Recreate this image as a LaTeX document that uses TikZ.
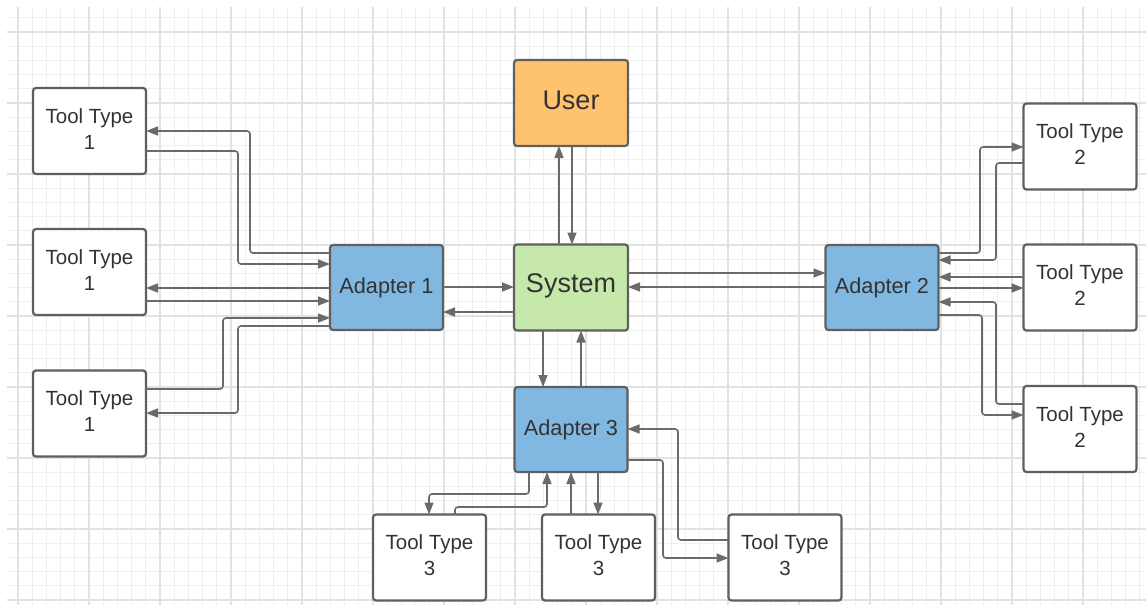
\documentclass[tikz,border=0pt]{standalone}
\usepackage{fontspec}
\setmainfont{Liberation Sans}
\usetikzlibrary{arrows.meta}
\definecolor{gridminor}{HTML}{EFEFEF}
\definecolor{gridmajor}{HTML}{E2E2E2}
\definecolor{boxline}{HTML}{5F5F5F}
\definecolor{connline}{HTML}{6A6A6A}
\definecolor{txt}{HTML}{333333}
\definecolor{userfill}{HTML}{FFC26F}
\definecolor{sysfill}{HTML}{C6E8AA}
\definecolor{adfill}{HTML}{80B8E2}
\tikzset{
  basebox/.style={draw=boxline, line width=2.2pt, rounded corners=3pt, outer sep=0pt,
    inner sep=0pt, text=txt, align=center},
  tool/.style={basebox, fill=white, minimum width=113pt, minimum height=86pt,
    font=\fontsize{20.5}{26}\selectfont, text depth=4pt},
  adapter/.style={basebox, fill=adfill, minimum width=113pt, minimum height=85pt,
    font=\fontsize{21.7}{26}\selectfont},
  bigbox/.style={basebox, minimum width=114pt, minimum height=86pt,
    font=\fontsize{27}{32}\selectfont},
  conn/.style={draw=connline, line width=1.6pt, rounded corners=3pt,
    -{Triangle[length=12pt,width=9pt]}}
}
\begin{document}
\begin{tikzpicture}[x=1pt,y=-1pt]
\useasboundingbox (0,0) rectangle (1146,605);
\fill[white] (0,0) rectangle (1146,605);
% grid
\begin{scope}
\clip (7,7) rectangle (1146,605);
\foreach \i in {0,...,80} {
  \pgfmathsetmacro{\xx}{18+14.2*\i}
  \draw[gridminor, line width=1pt] (\xx,0) -- (\xx,605);
}
\foreach \i in {-1,...,41} {
  \pgfmathsetmacro{\yy}{32+14.2*\i}
  \draw[gridminor, line width=1pt] (0,\yy) -- (1146,\yy);
}
\foreach \i in {0,...,16} {
  \pgfmathsetmacro{\xx}{18+71*\i}
  \draw[gridmajor, line width=1.2pt] (\xx,0) -- (\xx,605);
}
\foreach \i in {0,...,8} {
  \pgfmathsetmacro{\yy}{32+71*\i}
  \draw[gridmajor, line width=1.2pt] (0,\yy) -- (1146,\yy);
}
\end{scope}
% nodes
\node[tool] (t1a) at (89.5,131) {Tool Type\\1};
\node[tool] (t1b) at (89.5,272) {Tool Type\\1};
\node[tool] (t1c) at (89.5,413.5) {Tool Type\\1};
\node[adapter] (a1) at (386.5,287.5) {Adapter 1};
\node[bigbox, fill=sysfill, text depth=9.5pt] (sys) at (571,287.5) {System};
\node[bigbox, fill=userfill, text depth=5pt] (user) at (571,103) {User};
\node[adapter] (a3) at (571,429.5) {Adapter 3};
\node[adapter] (a2) at (882,287.5) {Adapter 2};
\node[tool] (t2a) at (1080,146.5) {Tool Type\\2};
\node[tool] (t2b) at (1080,287.5) {Tool Type\\2};
\node[tool] (t2c) at (1080,429) {Tool Type\\2};
\node[tool] (t3a) at (429.5,557.5) {Tool Type\\3};
\node[tool] (t3b) at (598.5,557.5) {Tool Type\\3};
\node[tool] (t3c) at (785,557.5) {Tool Type\\3};
% left connectors
\draw[conn] (a1.west |- 0,253) -- (250,253) |- (t1a.east |- 0,131);
\draw[conn] (t1a.east |- 0,151) -- (238,151) |- (a1.west |- 0,264);
\draw[conn] (a1.west |- 0,288) -- (t1b.east |- 0,288);
\draw[conn] (t1b.east |- 0,301) -- (a1.west |- 0,301);
\draw[conn] (t1c.east |- 0,389) -- (223,389) |- (a1.west |- 0,318);
\draw[conn] (a1.west |- 0,326) -- (238,326) |- (t1c.east |- 0,413);
% center connectors
\draw[conn] (a1.east |- 0,287) -- (sys.west |- 0,287);
\draw[conn] (sys.west |- 0,312) -- (a1.east |- 0,312);
\draw[conn] (sys.north -| 559,0) -- (user.south -| 559,0);
\draw[conn] (user.south -| 572,0) -- (sys.north -| 572,0);
\draw[conn] (sys.south -| 543,0) -- (a3.north -| 543,0);
\draw[conn] (a3.north -| 581,0) -- (sys.south -| 581,0);
\draw[conn] (sys.east |- 0,273) -- (a2.west |- 0,273);
\draw[conn] (a2.west |- 0,287) -- (sys.east |- 0,287);
% right connectors
\draw[conn] (a2.east |- 0,253) -- (980,253) |- (t2a.west |- 0,147);
\draw[conn] (t2a.west |- 0,163) -- (996,163) |- (a2.east |- 0,260);
\draw[conn] (t2b.west |- 0,277) -- (a2.east |- 0,277);
\draw[conn] (a2.east |- 0,288) -- (t2b.west |- 0,288);
\draw[conn] (t2c.west |- 0,404) -- (996,404) |- (a2.east |- 0,302);
\draw[conn] (a2.east |- 0,315) -- (982,315) |- (t2c.west |- 0,415);
% bottom connectors
\draw[conn] (a3.south -| 529,0) -- (529,494) -| (t3a.north -| 429,0);
\draw[conn] (t3a.north -| 455,0) -- (455,507) -| (a3.south -| 547,0);
\draw[conn] (t3b.north -| 571,0) -- (a3.south -| 571,0);
\draw[conn] (a3.south -| 598,0) -- (t3b.north -| 598,0);
\draw[conn] (t3c.west |- 0,540) -- (678,540) |- (a3.east |- 0,429);
\draw[conn] (a3.east |- 0,460) -- (663,460) |- (t3c.west |- 0,558);
\end{tikzpicture}
\end{document}
